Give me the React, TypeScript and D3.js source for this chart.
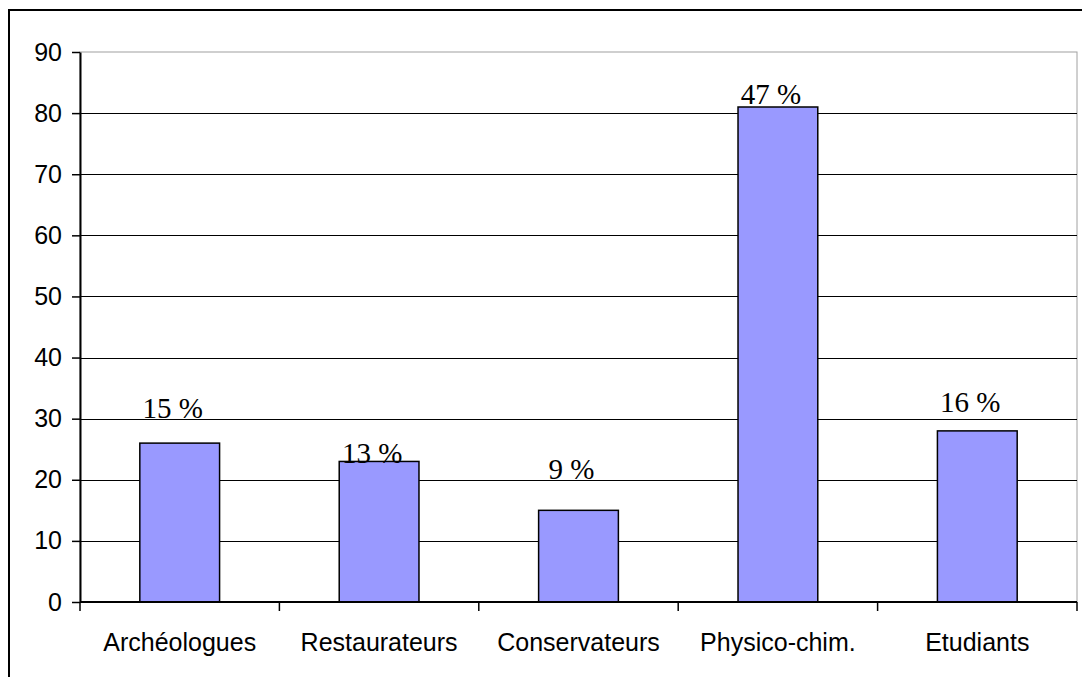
import * as d3 from "d3";
import { useEffect, useRef } from "react";

// categories and counts
const categories = ["Archéologues", "Restaurateurs", "Conservateurs", "Physico-chim.", "Etudiants"];
const counts = [26, 23, 15, 81, 28];
const percentLabels = ["15 %", "13 %", "9 %", "47 %", "16 %"];
// where each label's baseline sits, in axis units
const labelAt = [30.1, 22.7, 20.1, 81.5, 31.1];
const yTicks = [0, 10, 20, 30, 40, 50, 60, 70, 80, 90];

const W = 1082;
const H = 677;
const plot = { left: 80, top: 52, right: 1077, bottom: 602 };

export default function App() {
  const ref = useRef<SVGSVGElement>(null);

  useEffect(() => {
    const svg = d3.select(ref.current);
    svg.selectAll("*").remove();

    // outer frame (clipped on right and bottom like the source)
    svg
      .append("rect")
      .attr("x", 9)
      .attr("y", 10)
      .attr("width", 1100)
      .attr("height", 700)
      .attr("fill", "white")
      .attr("stroke", "black")
      .attr("stroke-width", 2);

    var x = d3
      .scaleBand()
      .domain(categories)
      .range([plot.left, plot.right])
      .padding(0);

    var y = d3.scaleLinear().domain([0, 90]).range([plot.bottom, plot.top]);

    // plot area border
    svg
      .append("rect")
      .attr("x", plot.left)
      .attr("y", plot.top)
      .attr("width", plot.right - plot.left)
      .attr("height", plot.bottom - plot.top)
      .attr("fill", "none")
      .attr("stroke", "#a0a0a0")
      .attr("stroke-width", 1);

    // gridlines
    svg
      .append("g")
      .selectAll("line")
      .data(yTicks.filter((t) => t > 0 && t < 90))
      .join("line")
      .attr("x1", plot.left)
      .attr("x2", plot.right)
      .attr("y1", (d) => Math.round(y(d)) + 0.5)
      .attr("y2", (d) => Math.round(y(d)) + 0.5)
      .attr("stroke", "black")
      .attr("stroke-width", 1);

    // bars
    const barW = x.bandwidth() * 0.4;
    svg
      .append("g")
      .selectAll("rect")
      .data(counts)
      .join("rect")
      .attr("x", (d, i) => (x(categories[i]) as number) + x.bandwidth() / 2 - barW / 2)
      .attr("y", (d) => y(d))
      .attr("width", barW)
      .attr("height", (d) => y(0) - y(d))
      .attr("fill", "#9999ff")
      .attr("stroke", "black")
      .attr("stroke-width", 1.5);

    // y axis
    const yAxis = svg
      .append("g")
      .attr("transform", `translate(${plot.left},0)`)
      .call(d3.axisLeft(y).tickValues(yTicks).tickSize(8).tickPadding(10).tickSizeOuter(0));
    yAxis.select(".domain").attr("stroke-width", 2);
    yAxis.selectAll(".tick line").attr("stroke-width", 1.5);
    yAxis
      .selectAll("text")
      .attr("font-family", "Liberation Sans, Arial, sans-serif")
      .attr("font-size", 25)
      .attr("fill", "black");

    // x axis: ticks at category boundaries
    const xg = svg.append("g");
    xg.append("line")
      .attr("x1", plot.left)
      .attr("x2", plot.right)
      .attr("y1", plot.bottom)
      .attr("y2", plot.bottom)
      .attr("stroke", "black")
      .attr("stroke-width", 2);
    const bounds = categories.map((c) => x(c) as number).concat([plot.right]);
    xg.selectAll("line.tk")
      .data(bounds)
      .join("line")
      .attr("class", "tk")
      .attr("x1", (d) => d)
      .attr("x2", (d) => d)
      .attr("y1", plot.bottom)
      .attr("y2", plot.bottom + 9)
      .attr("stroke", "black")
      .attr("stroke-width", 1.5);
    xg.selectAll("text")
      .data(categories)
      .join("text")
      .attr("x", (d) => (x(d) as number) + x.bandwidth() / 2)
      .attr("y", 651)
      .attr("text-anchor", "middle")
      .attr("font-family", "Liberation Sans, Arial, sans-serif")
      .attr("font-size", 25)
      .text((d) => d);

    // percentage labels
    svg
      .append("g")
      .selectAll("text")
      .data(percentLabels)
      .join("text")
      .attr("x", (d, i) => (x(categories[i]) as number) + x.bandwidth() / 2 - 7)
      .attr("y", (d, i) => y(labelAt[i]))
      .attr("text-anchor", "middle")
      .attr("font-family", "Liberation Serif, Times New Roman, serif")
      .attr("font-size", 29)
      .text((d) => d);
  }, []);

  return (
    <svg
      ref={ref}
      width={W}
      height={H}
      style={{ position: "absolute", left: 0, top: 0, background: "white" }}
    />
  );
}
